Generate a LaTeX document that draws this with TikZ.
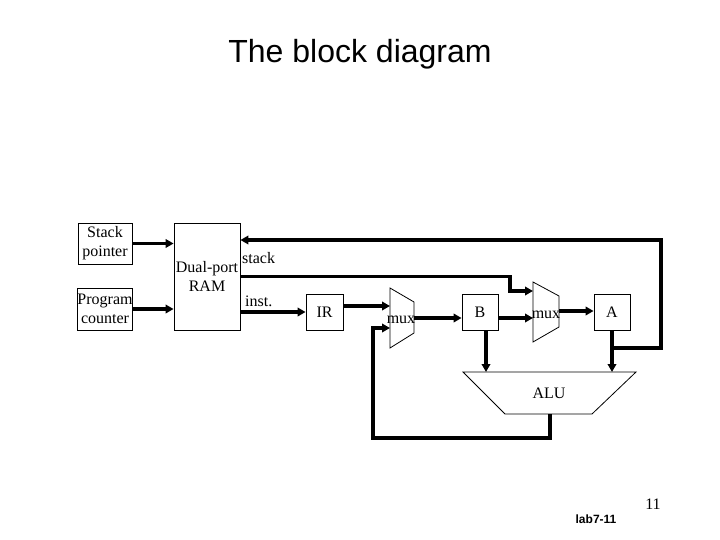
\documentclass[tikz,border=0pt]{standalone}
\usepackage{fontspec}
\setmainfont{Liberation Serif}
\newfontfamily\slidefont{Liberation Sans}
\usepackage{tikz}
\usetikzlibrary{positioning, arrows.meta, calc}

\begin{document}
\begin{tikzpicture}[x=1pt, y=-1pt,
    every node/.style={font=\fontsize{16}{19}\selectfont, inner sep=0pt},
    blk/.style={draw, line width=0.8pt, align=center},
    bus/.style={line width=3.6pt},
    busarrow/.style={bus, -{Triangle[length=8pt, width=8.5pt]}}]
    \useasboundingbox (0,0) rectangle (720,540);

    % Title
    \node[anchor=base] (title) at (360,63) {\slidefont\fontsize{32}{34}\selectfont The block diagram};

    % Registers and memory
    \node[blk, minimum width=54pt, minimum height=41pt] (sp) at (105,243.5) {Stack\\pointer};
    \node[blk, minimum width=54pt, minimum height=42pt] (pc) at (105,309) {Program\\counter};
    \node[blk, minimum width=66pt, minimum height=107pt] (ram) at (207,276.5) {Dual-port\\RAM};
    \node[blk, minimum width=37pt, minimum height=36pt] (ir) at (324.5,312) {IR};
    \node[blk, minimum width=36pt, minimum height=36pt] (b) at (480,312) {B};
    \node[blk, minimum width=36pt, minimum height=36pt] (a) at (612,312) {A};

    % Multiplexers and ALU
    \draw[line width=0.8pt] (390,288) -- (414,302) -- (414,333) -- (390,348) -- cycle;
    \draw[line width=0.8pt] (533,282) -- (559,296) -- (559,327) -- (533,342) -- cycle;
    \draw[line width=0.8pt] (463,372) -- (636,372) -- (592,414) -- (505,414) -- cycle;
    \node[anchor=base] (muxone) at (401,323) {mux};
    \node[anchor=base] (muxtwo) at (546,318) {mux};
    \node[anchor=base] (alu) at (549,398) {ALU};

    % Port labels
    \node[anchor=base west] (stacklbl) at (242,263) {stack};
    \node[anchor=base west] (instlbl) at (245,306) {inst.};

    % Port coordinates
    \coordinate (m1a) at (390,306);
    \coordinate (m1b) at (390,328);
    \coordinate (m1o) at (414,318);
    \coordinate (m2s) at (533,291);
    \coordinate (m2b) at (533,318);
    \coordinate (m2o) at (559,311);
    \coordinate (stkbend) at (510,291);
    \coordinate (alub) at (486,372);
    \coordinate (alua) at (612,372);
    \coordinate (aluo) at (550,414);
    \coordinate (tap) at (612,348);
    \coordinate (fbr) at (661,240);
    \coordinate (lpl) at (373,438);

    % Buses
    \draw[busarrow] (sp.east) -- (ram.west |- sp.east);
    \draw[busarrow] (pc.east) -- (ram.west |- pc.east);
    \draw[busarrow] (ram.east |- ir) -- (ir.west);
    \draw[busarrow] (ram.east) -| (stkbend) -- (m2s);
    \draw[busarrow] (ir.east |- m1a) -- (m1a);
    \draw[busarrow] (m1o) -- (b.west |- m1o);
    \draw[busarrow] (b.east |- m2b) -- (m2b);
    \draw[busarrow] (m2o) -- (a.west |- m2o);
    \draw[busarrow] (b.south -| alub) -- (alub);
    \draw[busarrow] (a.south) -- (alua);
    \draw[busarrow] (tap) -| (fbr) -- (ram.east |- fbr);
    \draw[busarrow] (aluo) |- (lpl) |- (m1b);

    % Footer
    \node[anchor=base] (pagenum) at (653,509) {11};
    \node[anchor=base] (footer) at (596,523) {\slidefont\bfseries\fontsize{12}{14}\selectfont lab7-11};
\end{tikzpicture}
\end{document}
